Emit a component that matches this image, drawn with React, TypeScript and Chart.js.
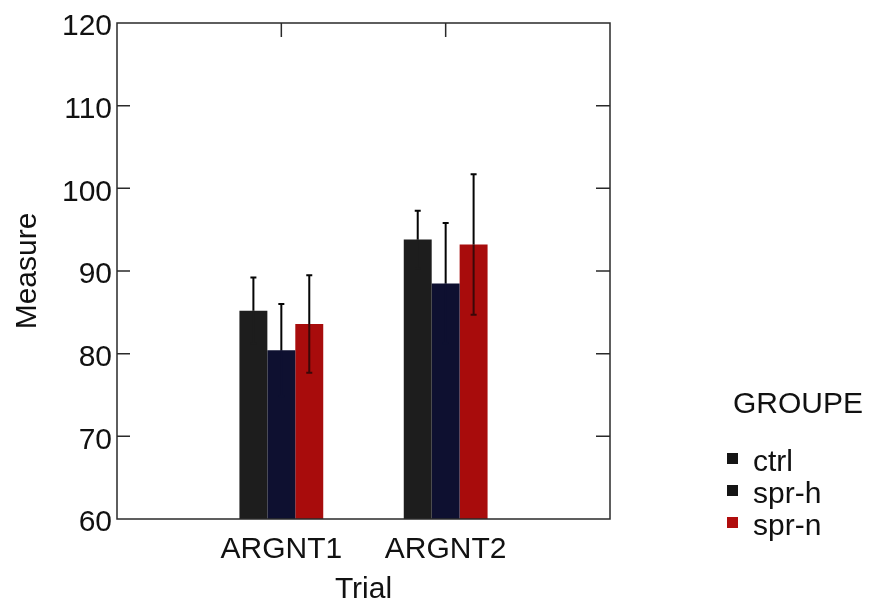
import React, { useEffect, useRef } from "react";
import { Chart, registerables } from "chart.js";

Chart.register(...registerables);

const categories = ["ARGNT1", "ARGNT2"];
const groups = ["ctrl", "spr-h", "spr-n"];
const ctrlValues = [85.2, 93.8];
const sprHValues = [80.4, 88.5];
const sprNValues = [83.6, 93.2];
const ctrlErrors = [4.0, 3.5];
const sprHErrors = [5.6, 7.3];
const sprNErrors = [5.9, 8.5];
const yTicks = [60, 70, 80, 90, 100, 110, 120];
const legendTitle = "GROUPE";
const xTitle = "Trial";
const yTitle = "Measure";

const colors = ["#1d1d1d", "#0e1030", "#a80c0c"];
const lowerWhiskerColors = ["#1d1d1d", "#0e1030", "#3a0808"];
const legendColors = ["#151515", "#151515", "#b00d0d"];
const FONT = "'Liberation Sans', Arial, Helvetica, sans-serif";
const INK = "#111111";

const labels = ["", ...categories, ""];
const pad = (arr: number[]) => [null, ...arr, null];

const errorSets = [ctrlErrors, sprHErrors, sprNErrors];

const framePlugin = {
  id: "frameAndErrors",
  afterDatasetsDraw(chart: any) {
    const { ctx, chartArea } = chart;
    const yScale = chart.scales.y;
    const xScale = chart.scales.x;
    ctx.save();
    // error bars
    ctx.lineWidth = 2;
    chart.data.datasets.forEach((ds: any, di: number) => {
      const meta = chart.getDatasetMeta(di);
      meta.data.forEach((el: any, j: number) => {
        const v = ds.data[j];
        if (v === null || v === undefined) return;
        const e = errorSets[di][j - 1];
        const x = el.x;
        const yMid = yScale.getPixelForValue(v);
        const yTop = yScale.getPixelForValue(v + e);
        const yBot = yScale.getPixelForValue(v - e);
        ctx.strokeStyle = "#050505";
        ctx.beginPath();
        ctx.moveTo(x, yTop);
        ctx.lineTo(x, yMid);
        ctx.moveTo(x - 3, yTop);
        ctx.lineTo(x + 3, yTop);
        ctx.stroke();
        ctx.strokeStyle = lowerWhiskerColors[di];
        ctx.beginPath();
        ctx.moveTo(x, yMid);
        ctx.lineTo(x, yBot);
        ctx.moveTo(x - 3, yBot);
        ctx.lineTo(x + 3, yBot);
        ctx.stroke();
      });
    });
    // frame
    ctx.strokeStyle = "#2a2a2a";
    ctx.lineWidth = 1.5;
    ctx.strokeRect(chartArea.left, chartArea.top, chartArea.right - chartArea.left, chartArea.bottom - chartArea.top);
    ctx.beginPath();
    yTicks.forEach((t) => {
      if (t === yTicks[0] || t === yTicks[yTicks.length - 1]) return;
      const y = yScale.getPixelForValue(t);
      ctx.moveTo(chartArea.left, y);
      ctx.lineTo(chartArea.left + 13, y);
      ctx.moveTo(chartArea.right, y);
      ctx.lineTo(chartArea.right - 14, y);
    });
    categories.forEach((c, i) => {
      const x = xScale.getPixelForValue(i + 1);
      ctx.moveTo(x, chartArea.top);
      ctx.lineTo(x, chartArea.top + 14);
    });
    ctx.stroke();
    // legend
    const lx = 733;
    ctx.fillStyle = INK;
    ctx.font = `30px ${FONT}`;
    ctx.textAlign = "left";
    ctx.textBaseline = "alphabetic";
    ctx.fillText(legendTitle, lx, 413);
    groups.forEach((g, i) => {
      const cy = 459 + i * 32;
      ctx.fillStyle = legendColors[i];
      ctx.fillRect(lx - 6, cy - 6, 11, 11);
      ctx.fillStyle = INK;
      ctx.textBaseline = "middle";
      ctx.fillText(g, lx + 20, cy + 4);
    });
    ctx.restore();
  },
};

export default function App() {
  const ref = useRef<HTMLCanvasElement>(null);
  useEffect(() => {
    if (!ref.current) return;
    const chart = new Chart(ref.current, {
      type: "bar",
      data: {
        labels,
        datasets: [
          { label: groups[0], data: pad(ctrlValues), backgroundColor: colors[0] },
          { label: groups[1], data: pad(sprHValues), backgroundColor: colors[1] },
          { label: groups[2], data: pad(sprNValues), backgroundColor: colors[2] },
        ],
      },
      options: {
        responsive: false,
        animation: false,
        layout: { padding: { top: 20, right: 266, left: 0, bottom: 0 } },
        plugins: { legend: { display: false }, tooltip: { enabled: false } },
        datasets: { bar: { barPercentage: 1, categoryPercentage: 0.51, skipNull: true } },
        scales: {
          x: {
            type: "category",
            offset: false,
            grid: { display: false, drawTicks: false },
            border: { display: false },
            ticks: { font: { size: 30, family: FONT }, color: INK, padding: 13, maxRotation: 0, autoSkip: false },
            title: { display: true, text: xTitle, font: { size: 30, family: FONT, lineHeight: 0.68 }, color: INK, padding: 0 },
            afterFit: (s: any) => { s.height = 81; },
          },
          y: {
            min: 60,
            max: 120,
            grid: { display: false, drawTicks: false },
            border: { display: false },
            afterBuildTicks: (s: any) => { s.ticks = yTicks.map((v) => ({ value: v })); },
            ticks: { font: { size: 30, family: FONT }, color: INK, padding: 5, labelOffset: 4 },
            title: { display: true, text: yTitle, font: { size: 30, family: FONT }, color: INK, padding: { top: 10, bottom: 0 } },
            afterFit: (s: any) => { s.width = 117; },
          },
        },
      },
      plugins: [framePlugin],
    });
    return () => chart.destroy();
  }, []);
  return (
    <div style={{ position: "fixed", left: 0, top: 0, width: 876, height: 600, background: "#fff" }}>
      <canvas ref={ref} width={876} height={600} />
    </div>
  );
}
